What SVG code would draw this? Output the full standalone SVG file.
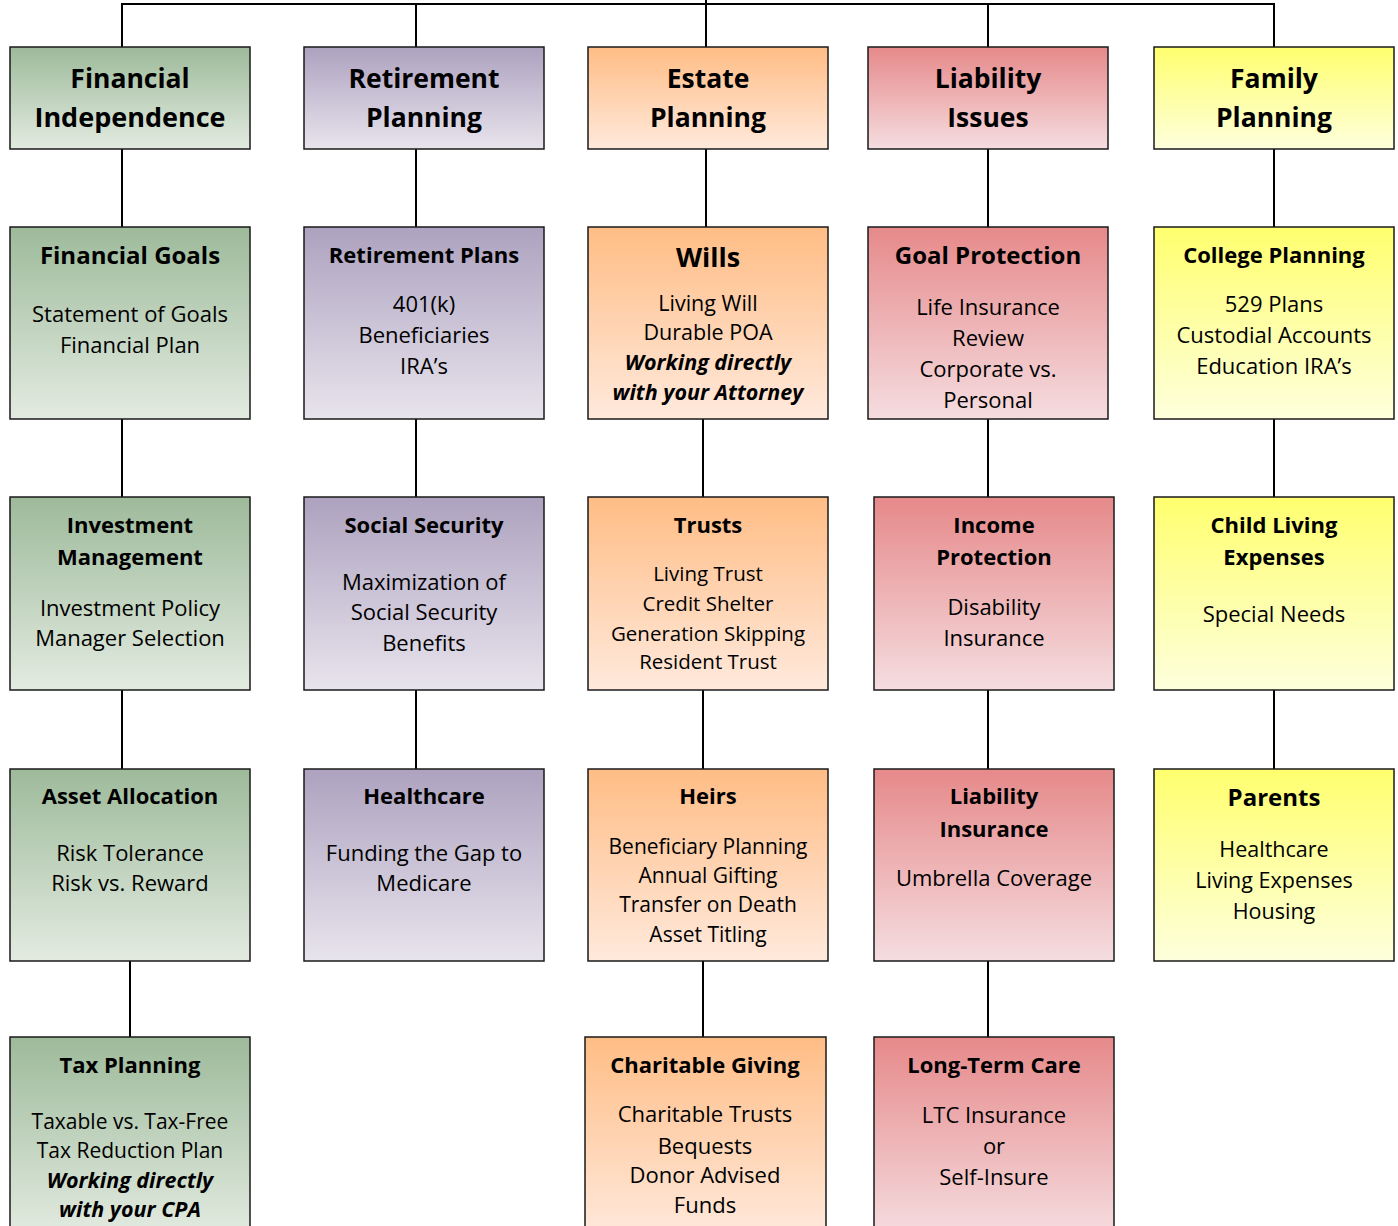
<svg xmlns="http://www.w3.org/2000/svg" width="1398" height="1226" viewBox="0 0 1398 1226">
<defs>
<linearGradient id="gG" x1="0" y1="0" x2="0" y2="1"><stop offset="0" stop-color="#9dba9a"/><stop offset="1" stop-color="#e3ebe1"/></linearGradient>
<linearGradient id="gP" x1="0" y1="0" x2="0" y2="1"><stop offset="0" stop-color="#ada2bf"/><stop offset="1" stop-color="#e8e4ed"/></linearGradient>
<linearGradient id="gO" x1="0" y1="0" x2="0" y2="1"><stop offset="0" stop-color="#ffbd85"/><stop offset="1" stop-color="#ffe9dc"/></linearGradient>
<linearGradient id="gR" x1="0" y1="0" x2="0" y2="1"><stop offset="0" stop-color="#e6898a"/><stop offset="1" stop-color="#f5dde0"/></linearGradient>
<linearGradient id="gY" x1="0" y1="0" x2="0" y2="1"><stop offset="0" stop-color="#ffff6e"/><stop offset="1" stop-color="#fdffdc"/></linearGradient>
</defs>
<style>
text{font-family:"Open Sans","Liberation Sans",sans-serif;fill:#000;text-anchor:middle}
.b{stroke:#1a1a1a;stroke-width:1.5}
.g{fill:url(#gG)}.p{fill:url(#gP)}.o{fill:url(#gO)}.r{fill:url(#gR)}.y{fill:url(#gY)}
.h{font-size:26.5px;font-weight:bold}
.t{font-size:22px;font-weight:bold}
.t2{font-size:24px;font-weight:bold}
.t3{font-size:27px;font-weight:bold}
.d{font-size:22px}
.s{font-size:21px}
.s2{font-size:20.5px}
.bi{font-weight:bold;font-style:italic}
#conn line{stroke:#000;stroke-width:2}
</style>
<rect width="1398" height="1226" fill="#fff"/>
<g id="conn">
<line x1="121" y1="4" x2="1275" y2="4"/>
<line x1="706" y1="0" x2="706" y2="4"/>
<line x1="122" y1="4" x2="122" y2="47"/>
<line x1="416" y1="4" x2="416" y2="47"/>
<line x1="706" y1="4" x2="706" y2="47"/>
<line x1="988" y1="4" x2="988" y2="47"/>
<line x1="1274" y1="4" x2="1274" y2="47"/>
<line x1="122" y1="149" x2="122" y2="227"/>
<line x1="122" y1="419" x2="122" y2="497"/>
<line x1="122" y1="690" x2="122" y2="769"/>
<line x1="130" y1="961" x2="130" y2="1037"/>
<line x1="416" y1="149" x2="416" y2="227"/>
<line x1="416" y1="419" x2="416" y2="497"/>
<line x1="416" y1="690" x2="416" y2="769"/>
<line x1="706" y1="149" x2="706" y2="227"/>
<line x1="703" y1="419" x2="703" y2="497"/>
<line x1="703" y1="690" x2="703" y2="769"/>
<line x1="703" y1="961" x2="703" y2="1037"/>
<line x1="988" y1="149" x2="988" y2="227"/>
<line x1="988" y1="419" x2="988" y2="497"/>
<line x1="988" y1="690" x2="988" y2="769"/>
<line x1="988" y1="961" x2="988" y2="1037"/>
<line x1="1274" y1="149" x2="1274" y2="227"/>
<line x1="1274" y1="419" x2="1274" y2="497"/>
<line x1="1274" y1="690" x2="1274" y2="769"/>
</g>

<g id="financial-independence"><rect class="b g" x="10" y="47" width="240" height="102"/>
<text class="h" x="130" y="88">Financial</text><text class="h" x="130" y="127" style="font-size:27px">Independence</text></g>
<g id="retirement-planning"><rect class="b p" x="304" y="47" width="240" height="102"/>
<text class="h" x="424" y="88">Retirement</text><text class="h" x="424" y="127">Planning</text></g>
<g id="estate-planning"><rect class="b o" x="588" y="47" width="240" height="102"/>
<text class="h" x="708" y="88">Estate</text><text class="h" x="708" y="127">Planning</text></g>
<g id="liability-issues"><rect class="b r" x="868" y="47" width="240" height="102"/>
<text class="h" x="988" y="88">Liability</text><text class="h" x="988" y="127">Issues</text></g>
<g id="family-planning"><rect class="b y" x="1154" y="47" width="240" height="102"/>
<text class="h" x="1274" y="88">Family</text><text class="h" x="1274" y="127">Planning</text></g>

<g id="financial-goals"><rect class="b g" x="10" y="227" width="240" height="192"/>
<text class="t2" x="130" y="264">Financial Goals</text>
<text class="d" x="130" y="322">Statement of Goals</text><text class="d" x="130" y="353">Financial Plan</text></g>
<g id="retirement-plans"><rect class="b p" x="304" y="227" width="240" height="192"/>
<text class="t" x="424" y="263">Retirement Plans</text>
<text class="d" x="424" y="312">401(k)</text><text class="d" x="424" y="343">Beneficiaries</text><text class="d" x="424" y="374">IRA’s</text></g>
<g id="wills"><rect class="b o" x="588" y="227" width="240" height="192"/>
<text class="t3" x="708" y="267">Wills</text>
<text class="d" x="708" y="311" style="font-size:21.5px">Living Will</text><text class="d" x="708" y="340" style="font-size:21.5px">Durable POA</text>
<text class="d bi" x="708" y="370" style="font-size:21.5px">Working directly</text><text class="d bi" x="708" y="400" style="font-size:21.5px">with your Attorney</text></g>
<g id="goal-protection"><rect class="b r" x="868" y="227" width="240" height="192"/>
<text class="t2" x="988" y="264">Goal Protection</text>
<text class="d" x="988" y="315">Life Insurance</text><text class="d" x="988" y="346">Review</text><text class="d" x="988" y="377">Corporate vs.</text><text class="d" x="988" y="408">Personal</text></g>
<g id="college-planning"><rect class="b y" x="1154" y="227" width="240" height="192"/>
<text class="t" x="1274" y="263">College Planning</text>
<text class="d" x="1274" y="312">529 Plans</text><text class="d" x="1274" y="343">Custodial Accounts</text><text class="d" x="1274" y="374">Education IRA’s</text></g>

<g id="investment-management"><rect class="b g" x="10" y="497" width="240" height="193"/>
<text class="t" x="130" y="533">Investment</text><text class="t" x="130" y="565">Management</text>
<text class="d" x="130" y="616">Investment Policy</text><text class="d" x="130" y="646">Manager Selection</text></g>
<g id="social-security"><rect class="b p" x="304" y="497" width="240" height="193"/>
<text class="t" x="424" y="533">Social Security</text>
<text class="d" x="424" y="590">Maximization of</text><text class="d" x="424" y="620">Social Security</text><text class="d" x="424" y="651">Benefits</text></g>
<g id="trusts"><rect class="b o" x="588" y="497" width="240" height="193"/>
<text class="t" x="708" y="533">Trusts</text>
<text class="s2" x="708" y="581">Living Trust</text><text class="s2" x="708" y="611">Credit Shelter</text><text class="s2" x="708" y="641">Generation Skipping</text><text class="s2" x="708" y="669">Resident Trust</text></g>
<g id="income-protection"><rect class="b r" x="874" y="497" width="240" height="193"/>
<text class="t" x="994" y="533">Income</text><text class="t" x="994" y="565">Protection</text>
<text class="d" x="994" y="615">Disability</text><text class="d" x="994" y="646">Insurance</text></g>
<g id="child-living-expenses"><rect class="b y" x="1154" y="497" width="240" height="193"/>
<text class="t" x="1274" y="533">Child Living</text><text class="t" x="1274" y="565">Expenses</text>
<text class="d" x="1274" y="622">Special Needs</text></g>

<g id="asset-allocation"><rect class="b g" x="10" y="769" width="240" height="192"/>
<text class="t" x="130" y="804">Asset Allocation</text>
<text class="d" x="130" y="861">Risk Tolerance</text><text class="d" x="130" y="891">Risk vs. Reward</text></g>
<g id="healthcare"><rect class="b p" x="304" y="769" width="240" height="192"/>
<text class="t" x="424" y="804">Healthcare</text>
<text class="d" x="424" y="861">Funding the Gap to</text><text class="d" x="424" y="891">Medicare</text></g>
<g id="heirs"><rect class="b o" x="588" y="769" width="240" height="192"/>
<text class="t" x="708" y="804">Heirs</text>
<text class="s" x="708" y="854">Beneficiary Planning</text><text class="s" x="708" y="883">Annual Gifting</text><text class="s" x="708" y="912">Transfer on Death</text><text class="s" x="708" y="942">Asset Titling</text></g>
<g id="liability-insurance"><rect class="b r" x="874" y="769" width="240" height="192"/>
<text class="t" x="994" y="804">Liability</text><text class="t" x="994" y="837">Insurance</text>
<text class="d" x="994" y="886">Umbrella Coverage</text></g>
<g id="parents"><rect class="b y" x="1154" y="769" width="240" height="192"/>
<text class="t2" x="1274" y="806">Parents</text>
<text class="d" x="1274" y="857" style="font-size:21.5px">Healthcare</text><text class="d" x="1274" y="888" style="font-size:21.5px">Living Expenses</text><text class="d" x="1274" y="919" style="font-size:21.5px">Housing</text></g>

<g id="tax-planning"><rect class="b g" x="10" y="1037" width="240" height="200"/>
<text class="t" x="130" y="1073">Tax Planning</text>
<text class="s" x="130" y="1129">Taxable vs. Tax-Free</text><text class="s" x="130" y="1158">Tax Reduction Plan</text>
<text class="s bi" x="130" y="1188" style="font-size:21.5px">Working directly</text><text class="s bi" x="130" y="1217" style="font-size:21.5px">with your CPA</text></g>
<g id="charitable-giving"><rect class="b o" x="585" y="1037" width="241" height="200"/>
<text class="t" x="705" y="1073">Charitable Giving</text>
<text class="d" x="705" y="1122">Charitable Trusts</text><text class="d" x="705" y="1154">Bequests</text><text class="d" x="705" y="1183">Donor Advised</text><text class="d" x="705" y="1213">Funds</text></g>
<g id="long-term-care"><rect class="b r" x="874" y="1037" width="240" height="200"/>
<text class="t" x="994" y="1073">Long-Term Care</text>
<text class="d" x="994" y="1123">LTC Insurance</text><text class="d" x="994" y="1154">or</text><text class="d" x="994" y="1185">Self-Insure</text></g>
</svg>
